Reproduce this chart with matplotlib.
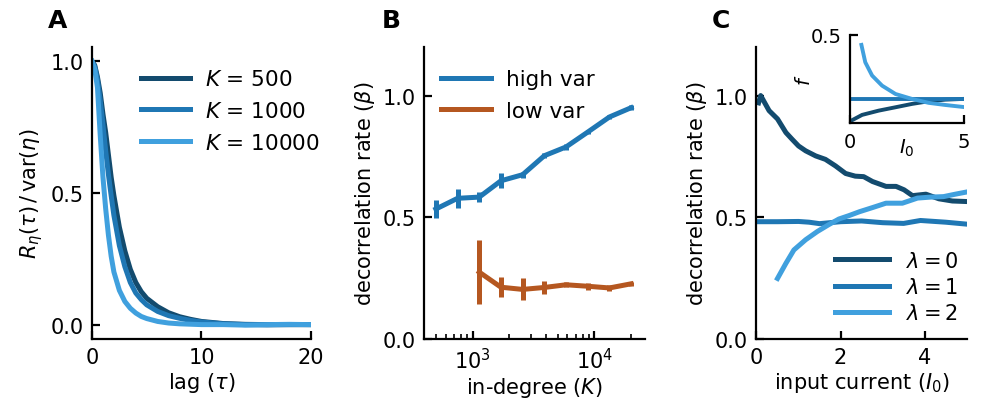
import matplotlib
matplotlib.use("Agg")
import matplotlib.pyplot as plt
import numpy as np

plt.rcParams['font.size'] = 15
plt.rcParams['axes.linewidth'] = 1.6
plt.rcParams['xtick.direction'] = 'in'
plt.rcParams['ytick.direction'] = 'in'
plt.rcParams['xtick.major.size'] = 6
plt.rcParams['ytick.major.size'] = 6
plt.rcParams['xtick.major.width'] = 1.6
plt.rcParams['ytick.major.width'] = 1.6
plt.rcParams['xtick.minor.size'] = 3.5
plt.rcParams['xtick.minor.width'] = 1.2
plt.rcParams['xtick.major.pad'] = 6
plt.rcParams['ytick.major.pad'] = 6
plt.rcParams['xtick.minor.pad'] = 6
plt.rcParams['mathtext.fontset'] = 'dejavusans'

dark = '#134b6e'
mid = '#1f77b4'
light = '#40a0de'
brown = '#b55720'

# --- panel A: autocorrelation vs lag
lag = [0, 0.25, 0.5, 0.75, 1.0, 1.25, 1.5, 1.75, 2.0, 2.5, 3.0, 3.5, 4.0, 4.5,
       5, 6, 7, 8, 9, 10, 12, 14, 16, 18, 20]
R_500 = [1.0, 0.985, 0.94, 0.88, 0.80, 0.73, 0.645, 0.56, 0.49, 0.37, 0.28, 0.21,
         0.16, 0.125, 0.10, 0.068, 0.045, 0.03, 0.02, 0.012, 0.004, 0.001, 0.0, 0.0, 0.0]
R_1000 = [1.0, 0.98, 0.93, 0.85, 0.76, 0.66, 0.57, 0.49, 0.415, 0.30, 0.22, 0.16,
          0.12, 0.095, 0.075, 0.05, 0.034, 0.024, 0.016, 0.01, 0.003, 0.0, -0.001, 0.0, 0.0]
R_10000 = [1.0, 0.97, 0.90, 0.72, 0.56, 0.44, 0.34, 0.26, 0.20, 0.13, 0.088, 0.062,
           0.044, 0.031, 0.023, 0.012, 0.006, 0.003, 0.0015, 0.0, 0.0, -0.002, 0.0, 0.001, 0.0]

# --- panel B: decorrelation rate vs in-degree
K = [500, 753, 1135, 1710, 2577, 3883, 5851, 8816, 13284, 20000]
beta_high = [0.534, 0.578, 0.583, 0.65, 0.675, 0.753, 0.789, 0.85, 0.912, 0.95]
err_high = [0.036, 0.04, 0.022, 0.03, 0.012, 0.01, 0.012, 0.008, 0.008, 0.01]
K_low = [1135, 1710, 2577, 3883, 5851, 8816, 13284, 20000]
beta_low = [0.275, 0.213, 0.204, 0.212, 0.223, 0.217, 0.21, 0.227]
err_low = [0.13, 0.04, 0.045, 0.025, 0.01, 0.015, 0.012, 0.008]

# --- panel C: decorrelation rate vs input current
I0_lam0 = [0.05, 0.1, 0.3, 0.5, 0.7, 0.85, 1.0, 1.17, 1.41, 1.64, 1.88, 2.12, 2.35,
           2.55, 2.76, 3.08, 3.32, 3.51, 3.71, 4.03, 4.34, 4.66, 4.97]
beta_lam0 = [0.97, 1.0, 0.938, 0.904, 0.848, 0.82, 0.793, 0.773, 0.752, 0.738,
             0.711, 0.68, 0.669, 0.667, 0.647, 0.627, 0.627, 0.613, 0.589, 0.595,
             0.576, 0.567, 0.565]
I0_lam1 = [0.0, 0.5, 1.0, 1.25, 1.5, 1.75, 2.0, 2.5, 3.0, 3.5, 3.9, 4.5, 5.0]
beta_lam1 = [0.482, 0.482, 0.483, 0.48, 0.474, 0.478, 0.482, 0.485, 0.478, 0.475,
             0.487, 0.48, 0.472]
I0_lam2 = [0.5, 0.7, 0.89, 1.17, 1.45, 1.72, 1.96, 2.2, 2.45, 2.76, 3.08, 3.47,
           3.83, 4.14, 4.45, 4.73, 4.97]
beta_lam2 = [0.249, 0.311, 0.366, 0.408, 0.442, 0.47, 0.493, 0.507, 0.523, 0.54,
             0.558, 0.558, 0.579, 0.583, 0.585, 0.595, 0.603]

# inset: f vs I0
f_I0_lam0 = [0.0, 0.06, 0.53, 1.26, 2.0, 2.73, 3.46, 4.19, 4.96]
f_lam0 = [0.006, 0.015, 0.047, 0.071, 0.09, 0.109, 0.124, 0.133, 0.137]
f_I0_lam1 = [0.0, 5.0]
f_lam1 = [0.135, 0.135]
f_I0_lam2 = [0.5, 0.67, 0.97, 1.41, 2.0, 2.73, 3.46, 4.19, 4.96]
f_lam2 = [0.442, 0.344, 0.269, 0.212, 0.165, 0.137, 0.115, 0.103, 0.092]

lw = 3.6

fig = plt.figure(figsize=(9.85, 4.02), dpi=100)
axA = fig.add_axes([0.0934, 0.154, 0.2223, 0.727])
axB = fig.add_axes([0.4305, 0.154, 0.2243, 0.727])
axC = fig.add_axes([0.768, 0.154, 0.2134, 0.727])
axI = fig.add_axes([0.863, 0.691, 0.1153, 0.2204])

for ax in [axA, axB, axC, axI]:
    ax.spines['top'].set_visible(False)
    ax.spines['right'].set_visible(False)

# A
axA.plot(lag, R_500, color=dark, lw=lw, label='$K$ = 500')
axA.plot(lag, R_1000, color=mid, lw=lw, label='$K$ = 1000')
axA.plot(lag, R_10000, color=light, lw=lw, label='$K$ = 10000')
axA.set_xlim(0, 20)
axA.set_ylim(-0.055, 1.055)
axA.set_xticks([0, 10, 20])
axA.set_yticks([0.0, 0.5, 1.0])
axA.set_xlabel(r'lag ($\tau$)', labelpad=2)
axA.set_ylabel(r'$R_\eta(\tau)\,/\,\mathrm{var}(\eta)$')
axA.legend(frameon=False, fontsize=15.5, handlelength=2.3, handletextpad=0.7,
           loc='upper right', bbox_to_anchor=(1.13, 0.99), labelspacing=0.55)

# B
eb_high = axB.errorbar(K, beta_high, yerr=err_high, color=mid, lw=lw,
                       elinewidth=3.6, capsize=0)
eb_low = axB.errorbar(K_low, beta_low, yerr=err_low, color=brown, lw=lw,
                      elinewidth=3.6, capsize=0)
axB.set_xscale('log')
axB.set_xlim(400, 26000)
axB.set_ylim(0, 1.2)
axB.set_yticks([0.0, 0.5, 1.0])
axB.set_xlabel('in-degree ($K$)', labelpad=2)
axB.set_ylabel(r'decorrelation rate ($\beta$)')
axB.legend([eb_high[0], eb_low[0]], ['high var', 'low var'], frameon=False,
           fontsize=15.5, handlelength=2.3, handletextpad=0.7, labelspacing=0.55,
           loc='upper left', bbox_to_anchor=(-0.01, 0.99))

# C
axC.plot(I0_lam0, beta_lam0, color=dark, lw=lw, label=r'$\lambda=0$')
axC.plot(I0_lam1, beta_lam1, color=mid, lw=lw, label=r'$\lambda=1$')
axC.plot(I0_lam2, beta_lam2, color=light, lw=lw, label=r'$\lambda=2$')
axC.set_xlim(0, 5)
axC.set_ylim(0, 1.2)
axC.set_xticks([0, 2, 4])
axC.set_yticks([0.0, 0.5, 1.0])
axC.set_xlabel('input current ($I_0$)', labelpad=2)
axC.set_ylabel(r'decorrelation rate ($\beta$)')
axC.legend(frameon=False, fontsize=15, handlelength=2.6, handletextpad=0.8,
           loc='lower right', bbox_to_anchor=(1.05, -0.01), labelspacing=0.3)

# inset
axI.plot(f_I0_lam0, f_lam0, color=dark, lw=2.8)
axI.plot(f_I0_lam1, f_lam1, color=mid, lw=2.8)
axI.plot(f_I0_lam2, f_lam2, color=light, lw=2.8)
axI.set_xlim(0, 5)
axI.set_ylim(0, 0.5)
axI.set_xticks([0, 5])
axI.set_yticks([0.5])
axI.tick_params(labelsize=14)
axI.set_xlabel('$I_0$', fontsize=14, labelpad=-10)
axI.set_ylabel('$f$', fontsize=14, labelpad=-2.5)

fig.text(0.049, 0.948, 'A', fontsize=18, fontweight='bold', va='center')
fig.text(0.388, 0.948, 'B', fontsize=18, fontweight='bold', va='center')
fig.text(0.723, 0.948, 'C', fontsize=18, fontweight='bold', va='center')

fig.savefig('out.png', dpi=100)
